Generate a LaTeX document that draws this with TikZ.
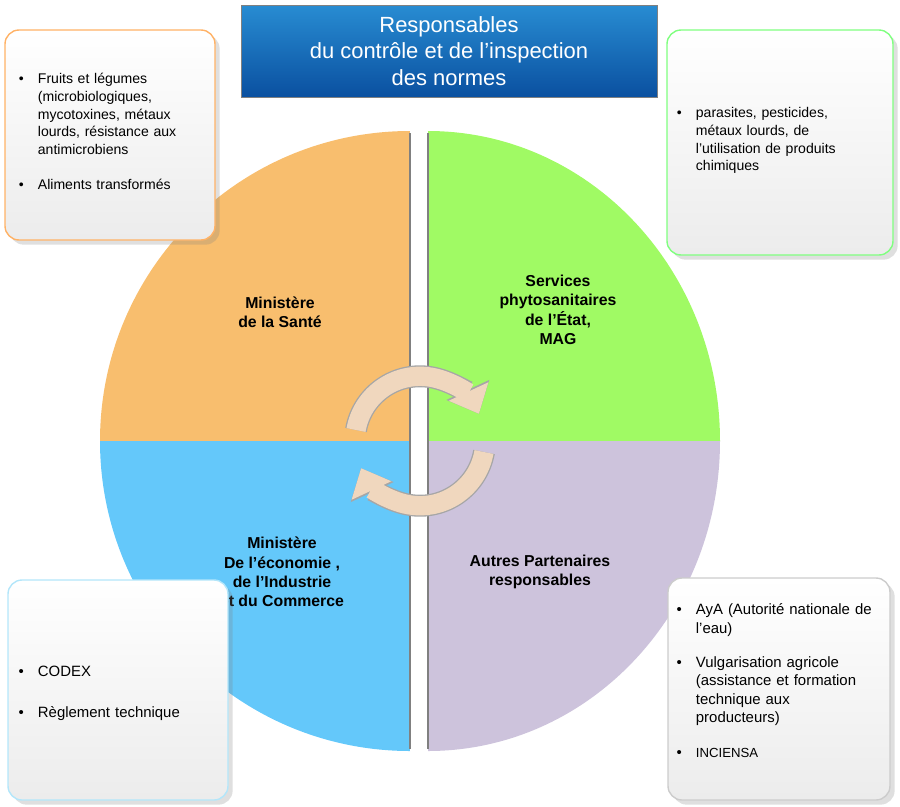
\documentclass[tikz,border=0pt]{standalone}
\usepackage{fontspec}
\usepackage{enumitem}
\setmainfont{Liberation Sans}
\usetikzlibrary{arrows.meta,shadows}
\definecolor{sante}{RGB}{248,190,110}
\definecolor{phyto}{RGB}{160,250,100}
\definecolor{econ}{RGB}{100,200,250}
\definecolor{autres}{RGB}{205,195,220}
\definecolor{ring}{RGB}{240,215,190}
\setlist[itemize]{leftmargin=10pt, topsep=0pt, labelsep=8pt}
\tikzset{
  quadlabel/.style={font=\bfseries\fontsize{9}{11}\selectfont, align=center},
  infobox/.style={draw=#1, rounded corners=8pt, line width=0.8pt, top color=white, bottom color=gray!15, drop shadow={opacity=0.25}},
  infotext/.style={font=\fontsize{8}{10}\selectfont, align=left, anchor=north west, inner sep=0pt},
  turn/.style={line width=11pt, ring, -{Triangle[length=14pt,width=24pt]}}
}
\begin{document}
\begin{tikzpicture}[x=0.02cm, y=-0.02cm]
  \useasboundingbox (0,0) rectangle (900,806);
  % quarters of the disc
  \fill[sante] (410,441) -- (100,441) arc[start angle=180, end angle=270, radius=310] -- cycle;
  \fill[phyto] (428,441) -- (428,131) arc[start angle=270, end angle=360, x radius=292, y radius=310] -- cycle;
  \fill[econ] (410,441) -- (410,751) arc[start angle=90, end angle=180, radius=310] -- cycle;
  \fill[autres] (428,441) -- (720,441) arc[start angle=0, end angle=90, x radius=292, y radius=310] -- cycle;
  \fill[white] (410,131) rectangle (428,751);
  \draw[gray, line width=0.6pt] (410,133) -- (410,749) (428,133) -- (428,749);
  % labels
  \node[quadlabel] (sante) at (280,312) {Ministère\\de la Santé};
  \node[quadlabel] (phyto) at (558,310) {Services\\phytosanitaires\\de l’État,\\MAG};
  \node[quadlabel] (econ) at (282,572) {Ministère\\De l’économie ,\\de l’Industrie\\et du Commerce};
  \node[quadlabel] (autres) at (540,572) {Autres Partenaires\\responsables};
  % turning arrows
  \draw[turn, line width=12.5pt, draw=gray!70, -{Triangle[length=15pt,width=26pt]}] (356,430) arc[start angle=190, end angle=335, radius=65];
  \draw[turn] (356,430) arc[start angle=190, end angle=335, radius=65];
  \draw[turn, line width=12.5pt, draw=gray!70, -{Triangle[length=15pt,width=26pt]}] (484,452) arc[start angle=10, end angle=155, radius=65];
  \draw[turn] (484,452) arc[start angle=10, end angle=155, radius=65];
  % title
  \node[draw=gray, top color={rgb,255:red,40;green,140;blue,210}, bottom color={rgb,255:red,10;green,80;blue,160},
    minimum width=416*0.02cm, minimum height=92*0.02cm, text=white, align=center,
    font=\fontsize{12.5}{15}\selectfont] (titre) at (449,51) {Responsables\\du contrôle et de l’inspection\\des normes};
  % side boxes
  \draw[infobox=orange!60] (5,30) rectangle (215,240);
  \draw[infobox=green!50] (667,30) rectangle (893,255);
  \draw[infobox=cyan!30] (8,580) rectangle (228,800);
  \draw[infobox=gray!40] (668,578) rectangle (890,800);
  \node[infotext, text width=3.6cm] (notesante) at (20,66) {\begin{itemize}[itemsep=6pt]
    \item Fruits et légumes (microbiologiques, mycotoxines, métaux lourds, résistance aux antimicrobiens
    \item Aliments transformés\end{itemize}};
  \node[infotext, text width=4.0cm] (notephyto) at (678,100) {\begin{itemize}\item parasites, pesticides, métaux lourds, de l'utilisation de produits chimiques\end{itemize}};
  \node[infotext, text width=3.9cm, font=\fontsize{8.5}{11}\selectfont] (noteecon) at (20,657) {\begin{itemize}[itemsep=8pt]
    \item CODEX
    \item Règlement technique\end{itemize}};
  \node[infotext, text width=3.9cm, font=\fontsize{8.5}{10.5}\selectfont] (noteautres) at (678,596) {\begin{itemize}[itemsep=5pt]
    \item AyA (Autorité nationale de l’eau)
    \item Vulgarisation agricole (assistance et formation technique aux producteurs)
    \item {\fontsize{7.5}{9}\selectfont INCIENSA}\end{itemize}};
\end{tikzpicture}
\end{document}
